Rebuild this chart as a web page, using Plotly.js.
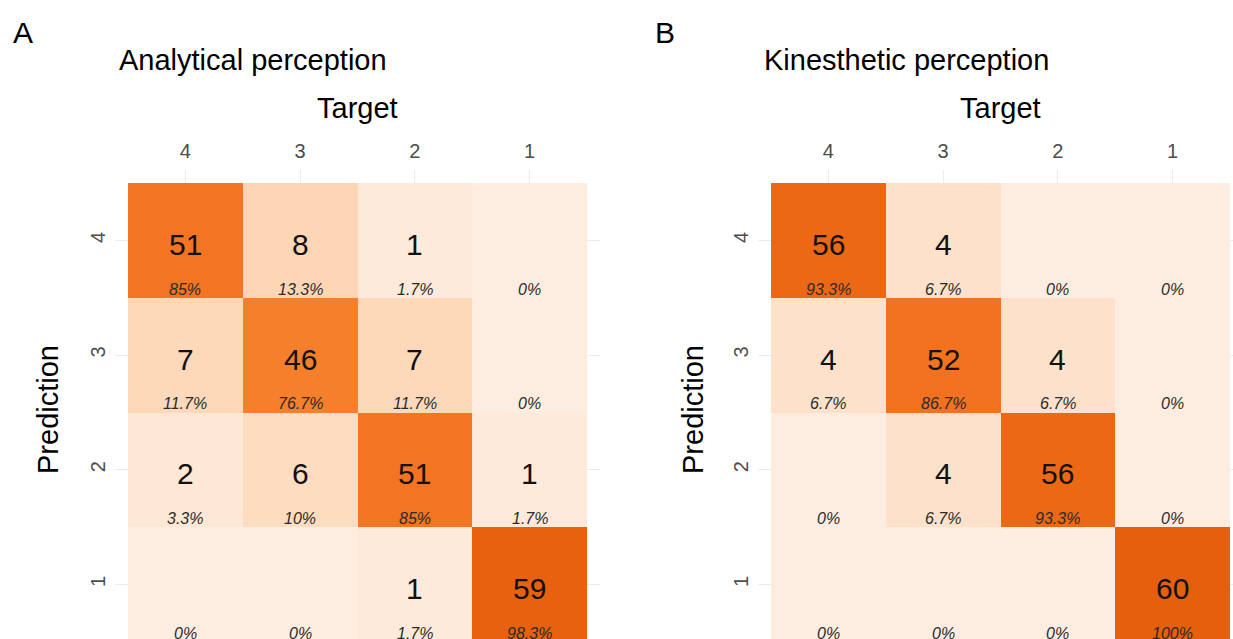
<!DOCTYPE html>
<html>
<head>
<meta charset="utf-8">
<script src="https://cdn.plot.ly/plotly-3.0.1.min.js"></script>
<style>
  html, body { margin: 0; padding: 0; background: #ffffff; }
  #chart { width: 1233px; height: 639px; }
</style>
</head>
<body>
<div id="chart"></div>
<script>
// Class labels (targets along the top, predictions down the side)
const targets = [4, 3, 2, 1];
const predictions = [4, 3, 2, 1];

// Confusion counts: one row per prediction (4..1), one column per target (4..1)
const analyticalCounts = [
  [51, 8, 1, 0],
  [7, 46, 7, 0],
  [2, 6, 51, 1],
  [0, 0, 1, 59]
];
const kinestheticCounts = [
  [56, 4, 0, 0],
  [4, 52, 4, 0],
  [0, 4, 56, 0],
  [0, 0, 0, 60]
];

const panelTitles = ['Analytical perception', 'Kinesthetic perception'];
const panelTags = ['A', 'B'];

const W = 1233, H = 639;
const px = v => v / W;
const py = v => 1 - v / H;

const FONT = 'Liberation Sans, Arial, sans-serif';
const orangeScale = [
  [0.00, '#fdede0'],
  [0.02, '#fde9d9'],
  [0.13, '#fdd7b6'],
  [0.45, '#faad6f'],
  [0.77, '#f57f2a'],
  [0.85, '#f37421'],
  [1.00, '#e65f0c']
];

function pctLabel(count, total) {
  const p = parseFloat((count / total * 100).toFixed(1));
  return p + '%';
}

const traces = [];
const annotations = [];
const panels = [analyticalCounts, kinestheticCounts];

panels.forEach((counts, i) => {
  const xa = i === 0 ? 'x' : 'x2';
  const ya = i === 0 ? 'y' : 'y2';
  traces.push({
    type: 'heatmap',
    x: targets,
    y: predictions,
    z: counts,
    zmin: 0,
    zmax: 60,
    colorscale: orangeScale,
    showscale: false,
    hoverinfo: 'skip',
    xaxis: xa,
    yaxis: ya
  });

  counts.forEach((row, r) => {
    const total = row.reduce((a, b) => a + b, 0);
    row.forEach((c, k) => {
      if (c > 0) {
        annotations.push({
          xref: xa, yref: ya, x: targets[k], y: predictions[r] - 0.035,
          text: String(c), showarrow: false,
          font: { family: FONT, size: 30, color: '#111111' }
        });
      }
      annotations.push({
        xref: xa, yref: ya, x: targets[k], y: predictions[r] - 0.425,
        text: '<i>' + pctLabel(c, total) + '</i>', showarrow: false,
        font: { family: FONT, size: 16, color: '#2b2b2b' }
      });
    });
  });
});

// Panel decorations: tag letter, panel title, axis titles
const panelCenter = [357.5, 1000.5];
const tagX = [23, 665];
const titleX = [117, 762];
const predX = [48, 693];

for (let i = 0; i < 2; i++) {
  annotations.push({
    xref: 'paper', yref: 'paper', x: px(tagX[i]), y: py(32),
    xanchor: 'center', yanchor: 'middle', showarrow: false,
    text: panelTags[i], font: { family: FONT, size: 30, color: '#000000' }
  });
  annotations.push({
    xref: 'paper', yref: 'paper', x: px(titleX[i]), y: py(60),
    xanchor: 'left', yanchor: 'middle', showarrow: false,
    text: panelTitles[i], font: { family: FONT, size: 29, color: '#000000' }
  });
  annotations.push({
    xref: 'paper', yref: 'paper', x: px(panelCenter[i]), y: py(108),
    xanchor: 'center', yanchor: 'middle', showarrow: false,
    text: 'Target', font: { family: FONT, size: 29, color: '#000000' }
  });
  annotations.push({
    xref: 'paper', yref: 'paper', x: px(predX[i]), y: py(410),
    xanchor: 'center', yanchor: 'middle', showarrow: false, textangle: -90,
    text: 'Prediction', font: { family: FONT, size: 29, color: '#000000' }
  });
}

const cell = 114.7;
const plotTop = 170;
const yTop = 4.5 + (183 - plotTop) / cell;
const yBottom = yTop - (H - plotTop) / cell;

function xAxis(domain, range) {
  return {
    domain: domain, range: range, side: 'top',
    tickvals: targets, ticktext: targets.map(String),
    showgrid: true, gridcolor: '#ebebeb', gridwidth: 1,
    zeroline: false, showline: false, ticks: '',
    ticklabelstandoff: 7,
    tickfont: { family: FONT, size: 20, color: '#4d4d4d' },
    fixedrange: true
  };
}
function yAxis(anchor) {
  return {
    domain: [0, (H - plotTop) / H], range: [yBottom, yTop], anchor: anchor,
    tickvals: predictions, ticktext: predictions.map(String),
    tickangle: -90,
    showgrid: true, gridcolor: '#ebebeb', gridwidth: 1,
    zeroline: false, showline: false, ticks: '',
    ticklabelstandoff: 5,
    tickfont: { family: FONT, size: 20, color: '#4d4d4d' },
    fixedrange: true
  };
}

const ext = 13 / cell;
const layout = {
  width: W, height: H,
  margin: { l: 0, r: 0, t: 0, b: 0 },
  paper_bgcolor: '#ffffff', plot_bgcolor: '#ffffff',
  showlegend: false,
  xaxis: Object.assign(xAxis([px(115), px(600)], [4.5 + ext, 0.5 - ext]), { anchor: 'y' }),
  yaxis: yAxis('x'),
  xaxis2: Object.assign(xAxis([px(758), 1], [4.5 + ext, 0.5 - (1233 - 1230) / cell]), { anchor: 'y2' }),
  yaxis2: yAxis('x2'),
  annotations: annotations
};

Plotly.newPlot('chart', traces, layout, { displayModeBar: false, staticPlot: true });
</script>
</body>
</html>
